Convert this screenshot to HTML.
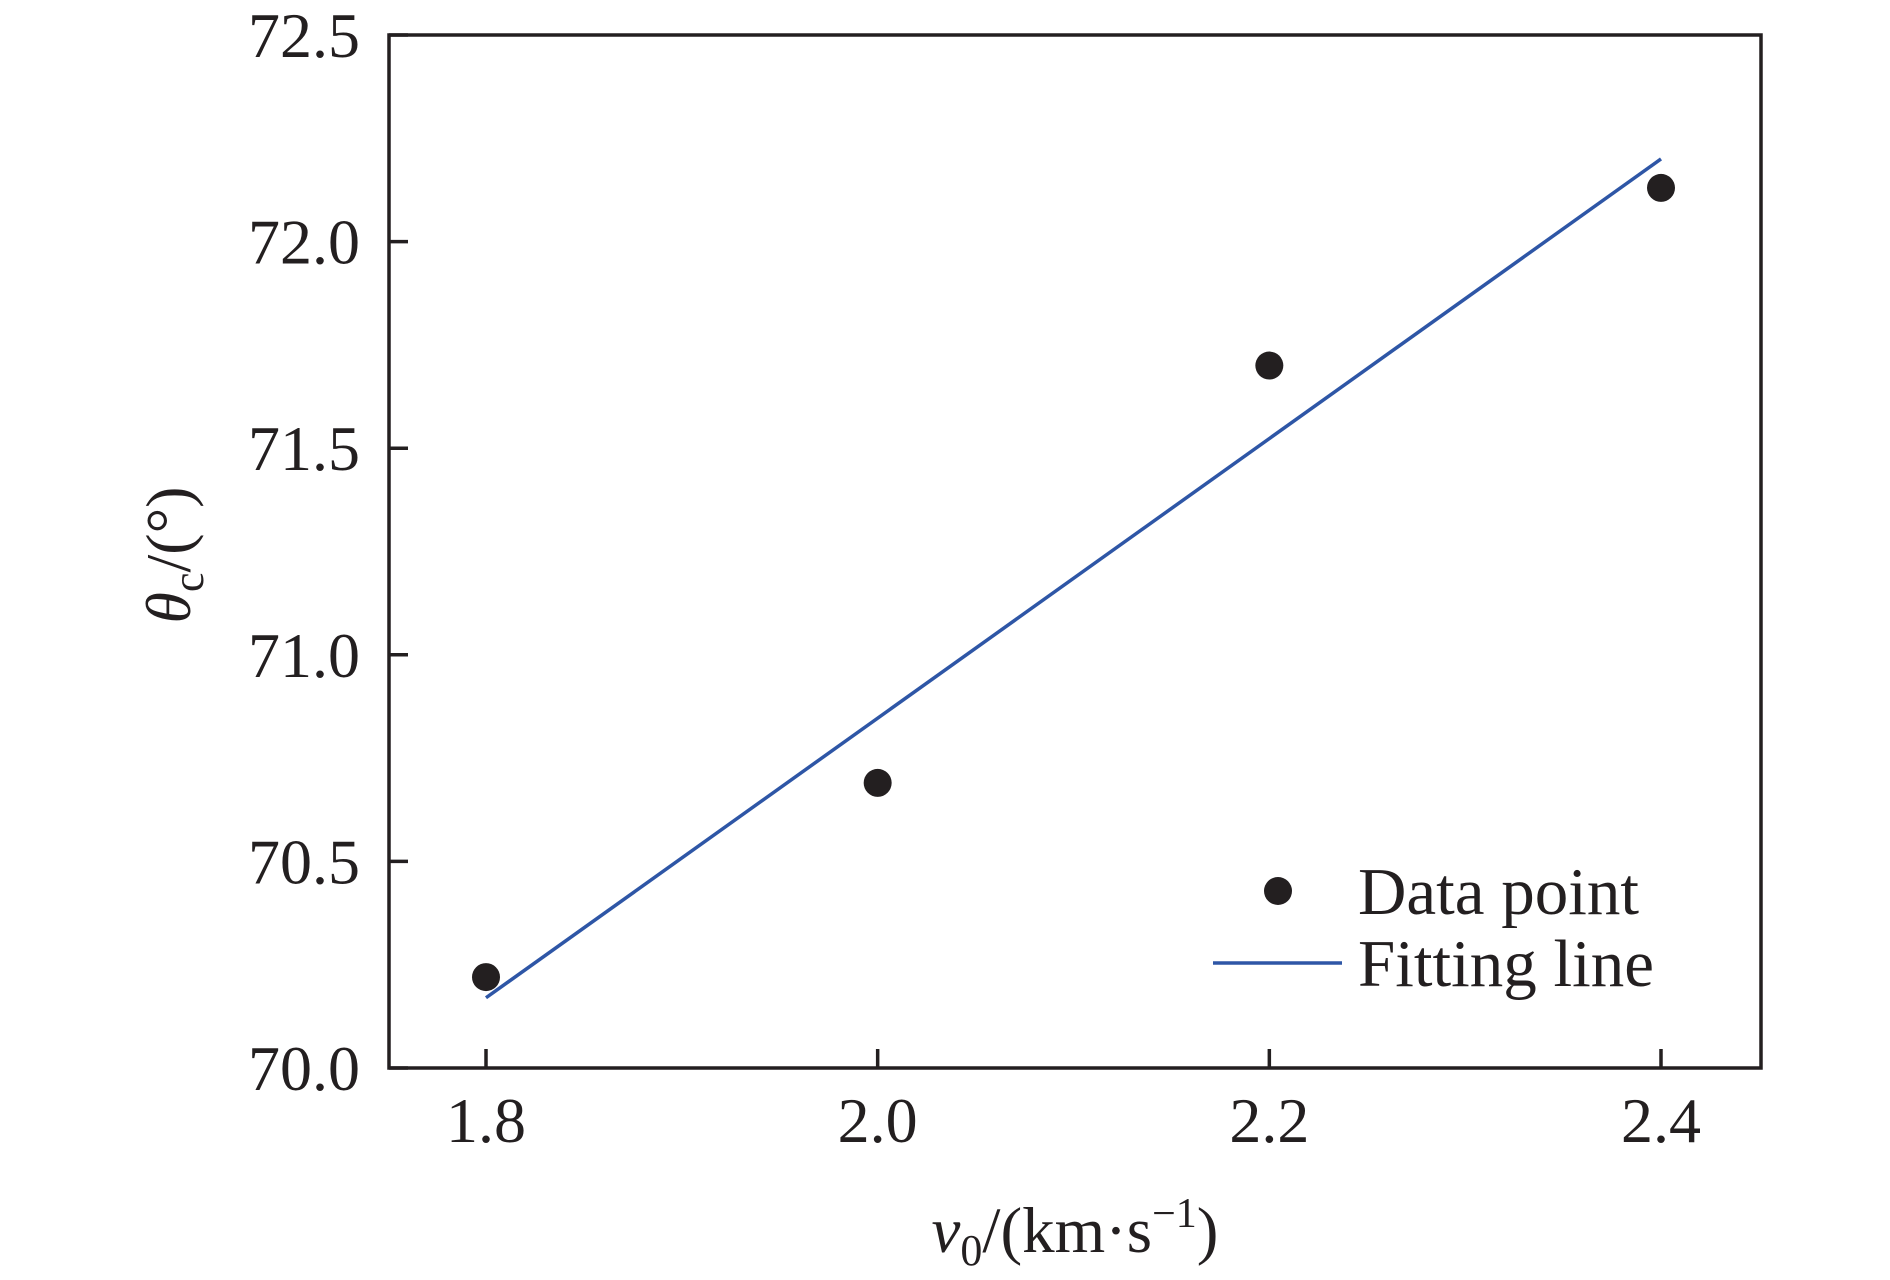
<!DOCTYPE html>
<html><head><meta charset="utf-8"><style>
html,body{margin:0;padding:0;background:#fff;}
svg{display:block;font-family:"Liberation Serif",serif;}
</style></head><body>
<svg id="chart" width="1890" height="1280" viewBox="0 0 1890 1280"></svg>
<script>
const xValues=[1.8,2.0,2.2,2.4];
const yValues=[70.22,70.69,71.70,72.13];
const fitX=[1.8,2.4];
const fitY=[70.17,72.20];
const xTicks=[1.8,2.0,2.2,2.4];
const xTickLabels=["1.8","2.0","2.2","2.4"];
const yTicks=[70.0,70.5,71.0,71.5,72.0,72.5];
const yTickLabels=["70.0","70.5","71.0","71.5","72.0","72.5"];

const L=389,R=1761,T=35,B=1068;
const xs=v=>486+(v-1.8)/0.6*(1661-486);
const ys=v=>B-(v-70)/2.5*(B-T);
const svg=document.getElementById('chart');
const NS='http://www.w3.org/2000/svg';
function mk(tag,attrs,parent){const e=document.createElementNS(NS,tag);for(const k in attrs)e.setAttribute(k,attrs[k]);(parent||svg).appendChild(e);return e;}

const fl=mk('line',{x1:xs(fitX[0]),y1:ys(fitY[0]),x2:xs(fitX[1]),y2:ys(fitY[1]),stroke:'#2e56a6','stroke-width':3.5});



xValues.forEach((x,i)=>{
  const c=mk('circle',{cx:xs(x),cy:ys(yValues[i]),r:14,fill:'#231f20'});
  
  
});

const fr=mk('rect',{x:L,y:T,width:R-L,height:B-T,fill:'none',stroke:'#231f20','stroke-width':3.5});



xTicks.forEach((t,i)=>{
  const tk=mk('line',{x1:xs(t),x2:xs(t),y1:B,y2:B-19,stroke:'#231f20','stroke-width':3.5});
  
  
  const tx=mk('text',{x:xs(t),y:1142,'text-anchor':'middle','font-size':64,fill:'#231f20'});
  tx.textContent=xTickLabels[i];
  
  
});
yTicks.forEach((t,i)=>{
  const tk=mk('line',{x1:L,x2:L+19,y1:ys(t),y2:ys(t),stroke:'#231f20','stroke-width':3.5});
  
  
  const tx=mk('text',{x:360,y:ys(t)+22,'text-anchor':'end','font-size':64,fill:'#231f20'});
  tx.textContent=yTickLabels[i];
  
  
});
</script>
<svg style="position:absolute;left:0;top:0" width="1890" height="1280">
<text x="1075" y="1252" text-anchor="middle" font-size="65" fill="#231f20" font-family="Liberation Serif,serif"><tspan font-style="italic">v</tspan><tspan font-size="44" dy="13">0</tspan><tspan dy="-13">/(km·s</tspan><tspan font-size="42" dy="-25">−1</tspan><tspan dy="25">)</tspan></text>
<text transform="translate(190,555) rotate(-90)" text-anchor="middle" font-size="64" fill="#231f20" font-family="Liberation Serif,serif"><tspan font-style="italic">θ</tspan><tspan font-size="44" dy="13">c</tspan><tspan dy="-13">/(°)</tspan></text>
<g>
<circle cx="1278" cy="891" r="14" fill="#231f20"/>
<text x="1358" y="914" font-size="67" fill="#231f20" font-family="Liberation Serif,serif">Data point</text>
<line x1="1213" x2="1342" y1="963" y2="963" stroke="#2e56a6" stroke-width="3.5"/>
<text x="1358" y="986" font-size="67" fill="#231f20" font-family="Liberation Serif,serif">Fitting line</text>
</g>
</svg>
</body></html>
